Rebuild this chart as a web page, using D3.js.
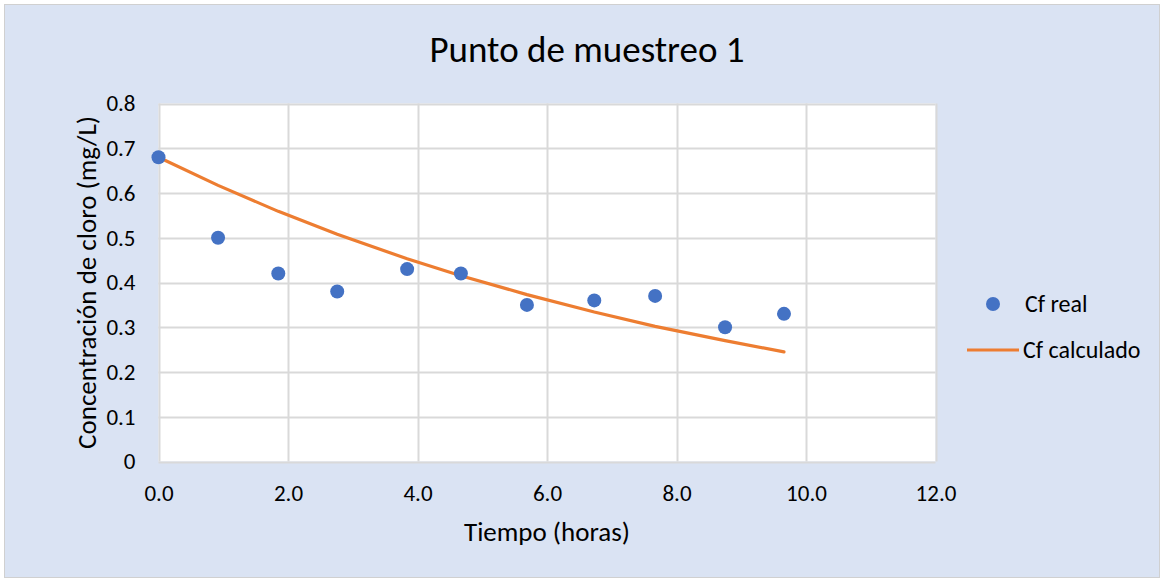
<!DOCTYPE html>
<html>
<head>
<meta charset="utf-8">
<script src="https://cdn.jsdelivr.net/npm/d3@7"></script>
<style>
  html, body { margin: 0; padding: 0; background: #ffffff; }
  svg { display: block; }
  text { font-family: Carlito, Lato, "Liberation Sans", sans-serif; fill: #000; }
</style>
</head>
<body>
<svg id="chart" width="1163" height="580"></svg>
<script>
// Sampling times (hours)
const tiempo = [0.0, 0.92, 1.85, 2.76, 3.84, 4.67, 5.69, 6.73, 7.67, 8.75, 9.66];
// Measured chlorine concentration (mg/L)
const cfReal = [0.68, 0.50, 0.42, 0.38, 0.43, 0.42, 0.35, 0.36, 0.37, 0.30, 0.33];
// Calculated chlorine concentration (mg/L)
const cfCalculado = [0.68, 0.617, 0.559, 0.508, 0.453, 0.415, 0.373, 0.334, 0.302, 0.270, 0.245];

const xTicks = [0, 2, 4, 6, 8, 10, 12];
const yTicks = [0, 0.1, 0.2, 0.3, 0.4, 0.5, 0.6, 0.7, 0.8];

const title = "Punto de muestreo 1";
const xTitle = "Tiempo (horas)";
const yTitle = "Concentración de cloro (mg/L)";
const seriesNames = ["Cf real", "Cf calculado"];

const colors = { real: "#4472C4", calc: "#ED7D31", grid: "#D9D9D9", bg: "#DAE3F3" };

const svg = d3.select("#chart");

// Chart area background with thin frame
svg.append("rect")
  .attr("x", 4.5).attr("y", 4.5)
  .attr("width", 1155).attr("height", 573)
  .attr("fill", colors.bg)
  .attr("stroke", "#D0D0D0").attr("stroke-width", 1);

const plot = { left: 158.5, top: 103.5, right: 935.5, bottom: 461.5 };

const x = d3.scaleLinear().domain([0, 12]).range([plot.left, plot.right]);
const y = d3.scaleLinear().domain([0, 0.8]).range([plot.bottom, plot.top]);

// Plot area
svg.append("rect")
  .attr("x", plot.left).attr("y", plot.top)
  .attr("width", plot.right - plot.left).attr("height", plot.bottom - plot.top)
  .attr("fill", "#ffffff");

// Gridlines
const g = svg.append("g");
g.selectAll("line.h").data(yTicks).join("line")
  .attr("x1", plot.left).attr("x2", plot.right)
  .attr("y1", d => Math.round(y(d)) + 0.5).attr("y2", d => Math.round(y(d)) + 0.5)
  .attr("stroke", colors.grid).attr("stroke-width", 2);
g.selectAll("line.v").data(xTicks).join("line")
  .attr("y1", plot.top).attr("y2", plot.bottom)
  .attr("x1", d => Math.round(x(d)) + 0.5).attr("x2", d => Math.round(x(d)) + 0.5)
  .attr("stroke", colors.grid).attr("stroke-width", 2);

// Axes (labels only; lines drawn by the grid)
const xAxis = svg.append("g")
  .attr("transform", `translate(0,${plot.bottom})`)
  .call(d3.axisBottom(x).tickValues(xTicks).tickFormat(d3.format(".1f")).tickSize(0).tickPadding(23));
const yAxis = svg.append("g")
  .attr("transform", `translate(${plot.left},0)`)
  .call(d3.axisLeft(y).tickValues(yTicks).tickFormat(d => d === 0 ? "0" : d3.format(".1f")(d)).tickSize(0).tickPadding(23));
[xAxis, yAxis].forEach(a => {
  a.select(".domain").remove();
  a.selectAll("text").attr("font-size", 23).attr("fill", "#000")
    .style("font-family", "Carlito, Lato, 'Liberation Sans', sans-serif");
});

// Calculated curve
const line = d3.line().x((d, i) => x(tiempo[i])).y(d => y(d));
svg.append("path")
  .datum(cfCalculado)
  .attr("d", line)
  .attr("fill", "none")
  .attr("stroke", colors.calc)
  .attr("stroke-width", 3.2)
  .attr("stroke-linecap", "round");

// Measured points
svg.selectAll("circle.pt").data(cfReal).join("circle")
  .attr("cx", (d, i) => x(tiempo[i]))
  .attr("cy", d => y(d))
  .attr("r", 7)
  .attr("fill", colors.real);

// Titles
svg.append("text")
  .attr("x", 587).attr("y", 62)
  .attr("text-anchor", "middle")
  .attr("font-size", 37)
  .text(title);

svg.append("text")
  .attr("x", 547).attr("y", 541)
  .attr("text-anchor", "middle")
  .attr("font-size", 27)
  .text(xTitle);

svg.append("text")
  .attr("transform", `translate(96,${(plot.top + plot.bottom) / 2}) rotate(-90)`)
  .attr("text-anchor", "middle")
  .attr("font-size", 27)
  .text(yTitle);

// Legend
const legend = svg.append("g");
legend.append("circle").attr("cx", 993).attr("cy", 304).attr("r", 7).attr("fill", colors.real);
legend.append("text").attr("x", 1025).attr("y", 312).attr("font-size", 24).text(seriesNames[0]);
legend.append("line").attr("x1", 967).attr("x2", 1019).attr("y1", 350).attr("y2", 350)
  .attr("stroke", colors.calc).attr("stroke-width", 3.2);
legend.append("text").attr("x", 1023).attr("y", 358).attr("font-size", 24).text(seriesNames[1]);
</script>
</body>
</html>
